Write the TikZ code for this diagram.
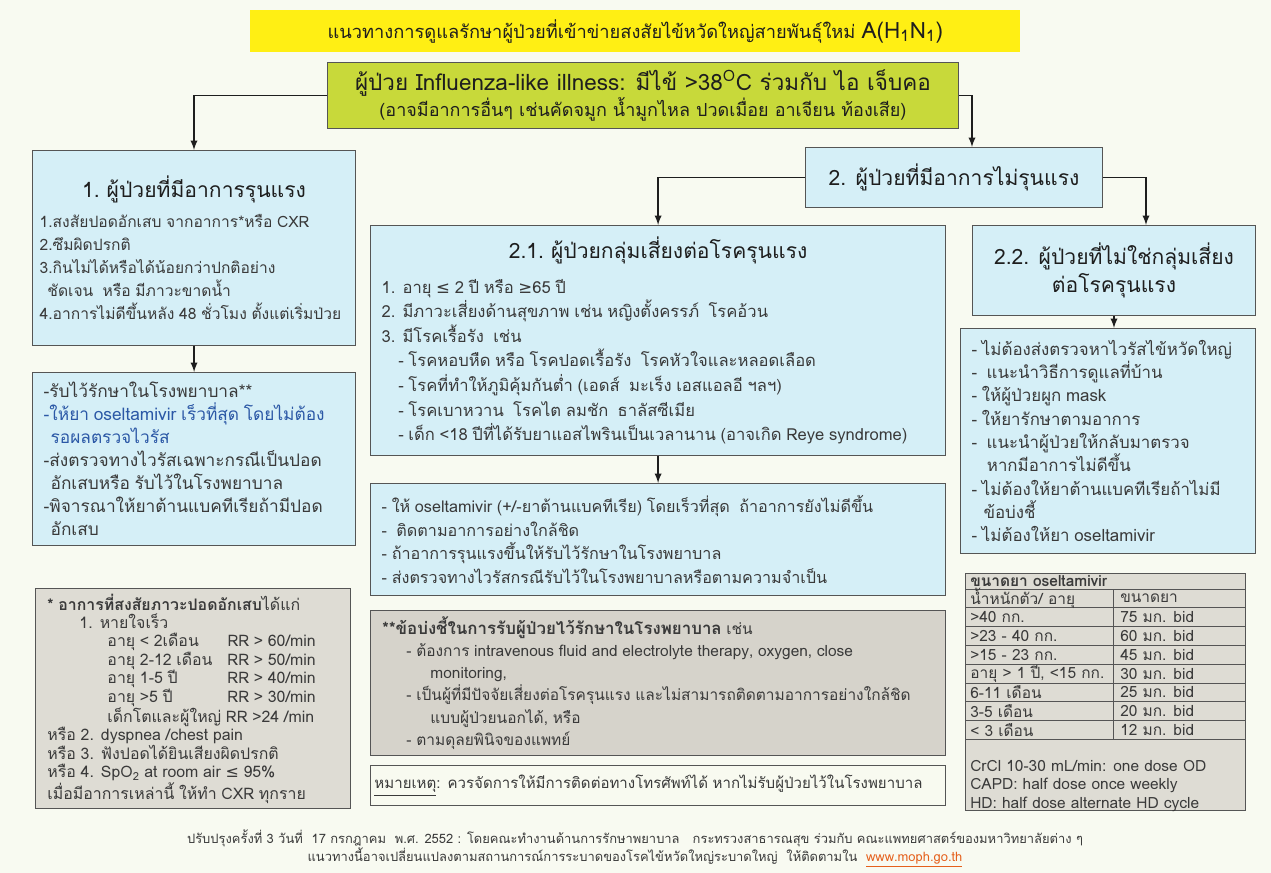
\documentclass[tikz,border=0pt]{standalone}
\usepackage{fontspec}
\setmainfont[Script=Thai]{Loma}
\newfontfamily\signfont{DejaVu Sans}
\usepackage{xcolor}
\usepackage{tikz}

\definecolor{bgcream}{HTML}{F8FAF1}
\definecolor{banneryellow}{HTML}{FFEF14}
\definecolor{ililime}{HTML}{C8D93A}
\definecolor{boxblue}{HTML}{D5EFF7}
\definecolor{framegray}{HTML}{555555}
\definecolor{textgray}{HTML}{3A3A3A}
\definecolor{headgray}{HTML}{1E1E1E}
\definecolor{drugblue}{HTML}{2B58A6}
\definecolor{notegray}{HTML}{DEDCD4}
\definecolor{admitgray}{HTML}{D6D3CB}
\definecolor{notefill}{HTML}{F8FAF0}
\definecolor{urlorange}{HTML}{E5601C}

% font sizes used in the boxes
\newcommand{\casehead}{\fontsize{15}{20}\selectfont}
\newcommand{\casetext}{\fontsize{11.1}{16.3}\selectfont}
\newcommand{\smalltext}{\fontsize{11}{13.1}\selectfont}

\begin{document}
\begin{tikzpicture}[>=latex]
\tikzstyle{banner}=[rectangle,fill=banneryellow,anchor=north west,minimum width=19.25cm,minimum height=1.05cm,text=headgray,font=\fontsize{13}{16}\selectfont]
\tikzstyle{ilibox}=[rectangle,draw=framegray,line width=0.6pt,fill=ililime,anchor=north west,minimum width=15.775cm,minimum height=1.65cm,align=center,text=headgray]
\tikzstyle{caseblock}=[rectangle,draw=framegray,line width=0.7pt,fill=boxblue,anchor=north west,inner xsep=0.28cm,align=left,text=textgray]
\tikzstyle{grayblock}=[rectangle,draw=framegray,line width=0.7pt,anchor=north west,inner xsep=0.3cm,align=left,text=textgray]
\tikzstyle{cell}=[anchor=west,inner sep=0pt,text=textgray,font=\smalltext]
\tikzstyle{link}=[->,line width=1.3pt,draw=headgray]

\useasboundingbox (0,0) rectangle (31.775,-21.825);
\fill[bgcream] (0,0) rectangle (31.775,-21.825);

% heading and entry box
\node[banner] (title) at (6.25,-0.25) {แนวทางการดูแลรักษาผู้ป่วยที่เข้าข่ายสงสัยไข้หวัดใหญ่สายพันธุ์ใหม่ {\fontsize{16}{16}\selectfont A(H\textsubscript{1}N\textsubscript{1})}};
\node[ilibox] (ili) at (8.175,-1.55) {{\fontsize{16}{19}\selectfont ผู้ป่วย Influenza-like illness: มีไข้ >38\textsuperscript{O}C ร่วมกับ ไอ เจ็บคอ}\\
{\fontsize{12.8}{15}\selectfont (อาจมีอาการอื่นๆ เช่นคัดจมูก น้ำมูกไหล ปวดเมื่อย อาเจียน ท้องเสีย)}};

% severe cases
\node[caseblock,inner xsep=0.18cm,text width=7.715cm,minimum height=4.875cm] (sev) at (0.8,-3.75) {%
{\centering\casehead\color{headgray} 1. ผู้ป่วยที่มีอาการรุนแรง\par}\vspace{5pt}
\casetext 1.สงสัยปอดอักเสบ จากอาการ*หรือ CXR\\
2.ซึมผิดปรกติ\\
3.กินไม่ได้หรือได้น้อยกว่าปกติอย่าง\\
\hspace*{0.5em}ชัดเจน\ \ หรือ มีภาวะขาดน้ำ\\
4.อาการไม่ดีขึ้นหลัง 48 ชั่วโมง ตั้งแต่เริ่มป่วย\par};
\node[caseblock,text width=7.52cm,minimum height=4.325cm] (sevcare) at (0.8,-9.3) {%
\fontsize{12.3}{16.3}\selectfont -รับไว้รักษาในโรงพยาบาล**\\
{\color{drugblue}-ให้ยา oseltamivir เร็วที่สุด โดยไม่ต้อง}\\
\hspace*{0.4em}{\color{drugblue}รอผลตรวจไวรัส}\\
-ส่งตรวจทางไวรัสเฉพาะกรณีเป็นปอด\\
\hspace*{0.4em}อักเสบหรือ รับไว้ในโรงพยาบาล\\
-พิจารณาให้ยาต้านแบคทีเรียถ้ามีปอด\\
\hspace*{0.4em}อักเสบ\par};

% mild cases
\node[caseblock,align=center,minimum width=7.425cm,minimum height=1.5cm,font=\casehead,text=headgray] (mild) at (20.125,-3.675) {2. ผู้ป่วยที่มีอาการไม่รุนแรง};
\node[caseblock,text width=13.82cm,minimum height=5.75cm] (risk) at (9.25,-5.625) {%
{\centering\casehead\color{headgray} 2.1. ผู้ป่วยกลุ่มเสี่ยงต่อโรครุนแรง\par}\vspace{7pt}
\fontsize{11.8}{17.5}\selectfont 1. อายุ {\signfont ≤} 2 ปี หรือ {\signfont ≥}65 ปี\\
2. มีภาวะเสี่ยงด้านสุขภาพ เช่น หญิงตั้งครรภ์\ \ โรคอ้วน\\
3. มีโรคเรื้อรัง\ \ เช่น\\
\hspace*{1em}- โรคหอบหืด หรือ โรคปอดเรื้อรัง\ \ โรคหัวใจและหลอดเลือด\\
\hspace*{1em}- โรคที่ทำให้ภูมิคุ้มกันต่ำ (เอดส์\ \ มะเร็ง เอสแอลอี ฯลฯ)\\
\hspace*{1em}- โรคเบาหวาน\ \ โรคไต ลมชัก\ \ ธาลัสซีเมีย\\
\hspace*{1em}- เด็ก <18 ปีที่ได้รับยาแอสไพรินเป็นเวลานาน (อาจเกิด Reye syndrome)\par};
\node[caseblock,text width=13.82cm,minimum height=2.8cm] (riskcare) at (9.25,-12.075) {%
\fontsize{11.5}{17}\selectfont - ให้ oseltamivir (+/-ยาต้านแบคทีเรีย) โดยเร็วที่สุด\ \ ถ้าอาการยังไม่ดีขึ้น\\
-\ \ ติดตามอาการอย่างใกล้ชิด\\
- ถ้าอาการรุนแรงขึ้นให้รับไว้รักษาในโรงพยาบาล\\
- ส่งตรวจทางไวรัสกรณีรับไว้ในโรงพยาบาลหรือตามความจำเป็น\par};
\node[caseblock,align=center,minimum width=7.075cm,minimum height=2.25cm,font=\casehead,text=headgray] (nonrisk) at (24.3,-5.625) {2.2. ผู้ป่วยที่ไม่ใช่กลุ่มเสี่ยง\\ต่อโรครุนแรง};
\node[caseblock,text width=6.82cm,minimum height=5.625cm] (nonriskcare) at (24.0,-8.2) {%
\fontsize{12}{16.6}\selectfont - ไม่ต้องส่งตรวจหาไวรัสไข้หวัดใหญ่\\
-\ \ แนะนำวิธีการดูแลที่บ้าน\\
- ให้ผู้ป่วยผูก mask\\
- ให้ยารักษาตามอาการ\\
-\ \ แนะนำผู้ป่วยให้กลับมาตรวจ\\
\hspace*{0.9em}หากมีอาการไม่ดีขึ้น\\
- ไม่ต้องให้ยาต้านแบคทีเรียถ้าไม่มี\\
\hspace*{0.7em}ข้อบ่งชี้\\
- ไม่ต้องให้ยา oseltamivir\par};

% footnotes
\node[grayblock,fill=notegray,text width=7.275cm,minimum height=5.5cm] (pneu) at (0.875,-14.7) {%
\fontsize{11.3}{13.1}\selectfont {\bfseries * อาการที่สงสัยภาวะปอดอักเสบ}ได้แก่\\
\hspace*{0.8cm}1. หายใจเร็ว\\
\hspace*{1.5cm}\makebox[3.0cm][l]{อายุ < 2เดือน}RR > 60/min\\
\hspace*{1.5cm}\makebox[3.0cm][l]{อายุ 2-12 เดือน}RR > 50/min\\
\hspace*{1.5cm}\makebox[3.0cm][l]{อายุ 1-5 ปี}RR > 40/min\\
\hspace*{1.5cm}\makebox[3.0cm][l]{อายุ >5 ปี}RR > 30/min\\
\hspace*{1.5cm}เด็กโตและผู้ใหญ่ RR >24 /min\\
หรือ 2. dyspnea /chest pain\\
หรือ 3. ฟังปอดได้ยินเสียงผิดปรกติ\\
หรือ 4. SpO\textsubscript{2} at room air {\signfont ≤} 95\%\\
เมื่อมีอาการเหล่านี้ ให้ทำ CXR ทุกราย\par};
\node[grayblock,fill=admitgray,text width=13.775cm,minimum height=3.625cm] (admit) at (9.25,-15.25) {%
\fontsize{11}{15.7}\selectfont {\fontsize{12}{15.7}\selectfont\bfseries **ข้อบ่งชี้ในการรับผู้ป่วยไว้รักษาในโรงพยาบาล} เช่น\\
\hspace*{0.6cm}- ต้องการ intravenous fluid and electrolyte therapy, oxygen, close\\
\hspace*{1.2cm}monitoring,\\
\hspace*{0.6cm}- เป็นผู้ที่มีปัจจัยเสี่ยงต่อโรครุนแรง และไม่สามารถติดตามอาการอย่างใกล้ชิด\\
\hspace*{1.2cm}แบบผู้ป่วยนอกได้, หรือ\\
\hspace*{0.6cm}- ตามดุลยพินิจของแพทย์\par};
\node[grayblock,fill=notefill,inner xsep=0.1cm,text width=14.175cm,minimum height=1.0cm] (note) at (9.25,-19.125) {%
\fontsize{10.7}{14}\selectfont \underline{หมายเหตุ}: ควรจัดการให้มีการติดต่อทางโทรศัพท์ได้ หากไม่รับผู้ป่วยไว้ในโรงพยาบาล\par};

% dosage table
\node[grayblock,fill=notegray,minimum width=7.0cm,minimum height=5.925cm] (dose) at (24.125,-14.325) {};
\foreach \k in {0,...,8}
  \draw[framegray,line width=0.5pt] (24.125,{-14.725-0.47*\k}) -- (31.125,{-14.725-0.47*\k});
\draw[framegray,line width=0.5pt] (27.825,-14.725) -- (27.825,-18.485);
\node[cell,font=\smalltext\bfseries] (dosehead) at (24.25,-14.525) {ขนาดยา oseltamivir};
\foreach \wt/\amt [count=\i from 0] in {{น้ำหนักตัว/ อายุ}/ขนาดยา, {>40 กก.}/{75 มก. bid}, {>23 - 40 กก.}/{60 มก. bid}, {>15 - 23 กก.}/{45 มก. bid}, {อายุ > 1 ปี, <15 กก.}/{30 มก. bid}, {6-11 เดือน}/{25 มก. bid}, {3-5 เดือน}/{20 มก. bid}, {< 3 เดือน}/{12 มก. bid}} {
  \node[cell] (wt\i) at (24.25,{-14.725-0.47*(\i+0.5)}) {\wt};
  \node[cell] (amt\i) at (28.0,{-14.725-0.47*(\i+0.5)}) {\amt};
}
\node[cell,anchor=north west,align=left,font=\fontsize{11}{13.1}\selectfont] (renal) at (24.25,-19.0) {CrCl 10-30 mL/min: one dose OD\\CAPD: half dose once weekly\\HD: half dose alternate HD cycle\par};

% revision note
\node[align=center,text=textgray,font=\fontsize{9.2}{12.8}\selectfont] (footer) at (15.875,-21.22) {ปรับปรุงครั้งที่ 3 วันที่\ \ 17 กรกฎาคม\ \ พ.ศ. 2552 : โดยคณะทำงานด้านการรักษาพยาบาล\ \ \ กระทรวงสาธารณสุข ร่วมกับ คณะแพทยศาสตร์ของมหาวิทยาลัยต่าง ๆ\\
แนวทางนี้อาจเปลี่ยนแปลงตามสถานการณ์การระบาดของโรคไข้หวัดใหญ่ระบาดใหญ่\ \ ให้ติดตามใน\ \ {\color{urlorange}\underline{www.moph.go.th}}};

% flow
\draw[link] (ili.west) -| (sev.north);
\draw[link] (ili.east) -| ([xshift=4.5mm]mild.north);
\draw[link] (sev.south) -- (sevcare.north);
\draw[link] (mild.west) -| (risk.north);
\draw[link] (mild.east) -| ([xshift=8mm]nonrisk.north);
\draw[link] (risk.south) -- (riskcare.north);
\draw[link] (nonrisk.south) -- (nonrisk.south |- nonriskcare.north);
\end{tikzpicture}
\end{document}
